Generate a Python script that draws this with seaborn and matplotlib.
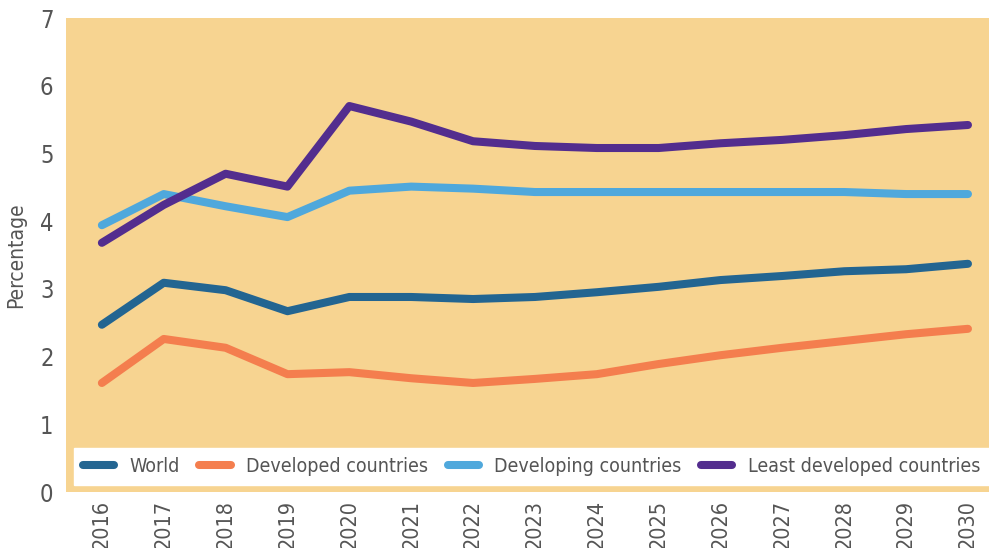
import matplotlib.pyplot as plt
import pandas as pd
import seaborn as sns

years = list(range(2016, 2031))
world = [2.47, 3.09, 2.98, 2.67, 2.88, 2.88, 2.85, 2.88, 2.95, 3.03, 3.13, 3.19, 3.26, 3.29, 3.37]
developed = [1.61, 2.26, 2.13, 1.74, 1.77, 1.68, 1.61, 1.67, 1.74, 1.89, 2.02, 2.13, 2.23, 2.33, 2.41]
developing = [3.94, 4.40, 4.22, 4.06, 4.45, 4.51, 4.48, 4.43, 4.43, 4.43, 4.43, 4.43, 4.43, 4.40, 4.40]
least = [3.68, 4.24, 4.70, 4.51, 5.70, 5.47, 5.18, 5.11, 5.08, 5.08, 5.15, 5.20, 5.27, 5.36, 5.42]

series = ['World', 'Developed countries', 'Developing countries', 'Least developed countries']
colors = ['#236591', '#F47E4E', '#4FA8DC', '#532D8E']

df = pd.DataFrame({'year': years * 4,
                   'value': world + developed + developing + least,
                   'group': sum([[s] * len(years) for s in series], [])})

sns.set_style('white')
plt.rcParams['font.family'] = ['DejaVu Sans']
plt.rcParams['font.stretch'] = 'condensed'

fig = plt.figure(figsize=(9.89, 5.48), dpi=100)
ax = fig.add_axes([66 / 989, 1 - 492 / 548, 1 - 66 / 989, 474 / 548])
ax.set_facecolor('#F7D491')

sns.lineplot(data=df, x='year', y='value', hue='group', palette=colors,
             linewidth=5.8, solid_capstyle='round', ax=ax)

ax.set_xlim(2015.42, 2030.34)
ax.set_ylim(0, 7)
ax.set_xticks(years)
ax.set_xticklabels([str(y) for y in years], rotation=90)
ax.set_yticks(range(8))
ax.tick_params(axis='both', colors='#555555', length=0)
ax.tick_params(axis='x', pad=6, labelsize=15.5)
ax.tick_params(axis='y', pad=9, labelsize=17)
ax.set_xlabel('')
ax.set_ylabel('Percentage', color='#555555', fontsize=15, labelpad=10)
for s in ax.spines.values():
    s.set_visible(False)

leg = ax.legend(loc='lower left', bbox_to_anchor=(0.0087, 0.015, 0.9913, 0.074),
                mode='expand', ncol=4, frameon=True, fancybox=False,
                framealpha=1, edgecolor='white', facecolor='white',
                fontsize=14, handlelength=1.6, borderaxespad=0, handletextpad=0.8,
                borderpad=0.45)
for t in leg.get_texts():
    t.set_color('#555555')

fig.savefig('out.png', dpi=100)
